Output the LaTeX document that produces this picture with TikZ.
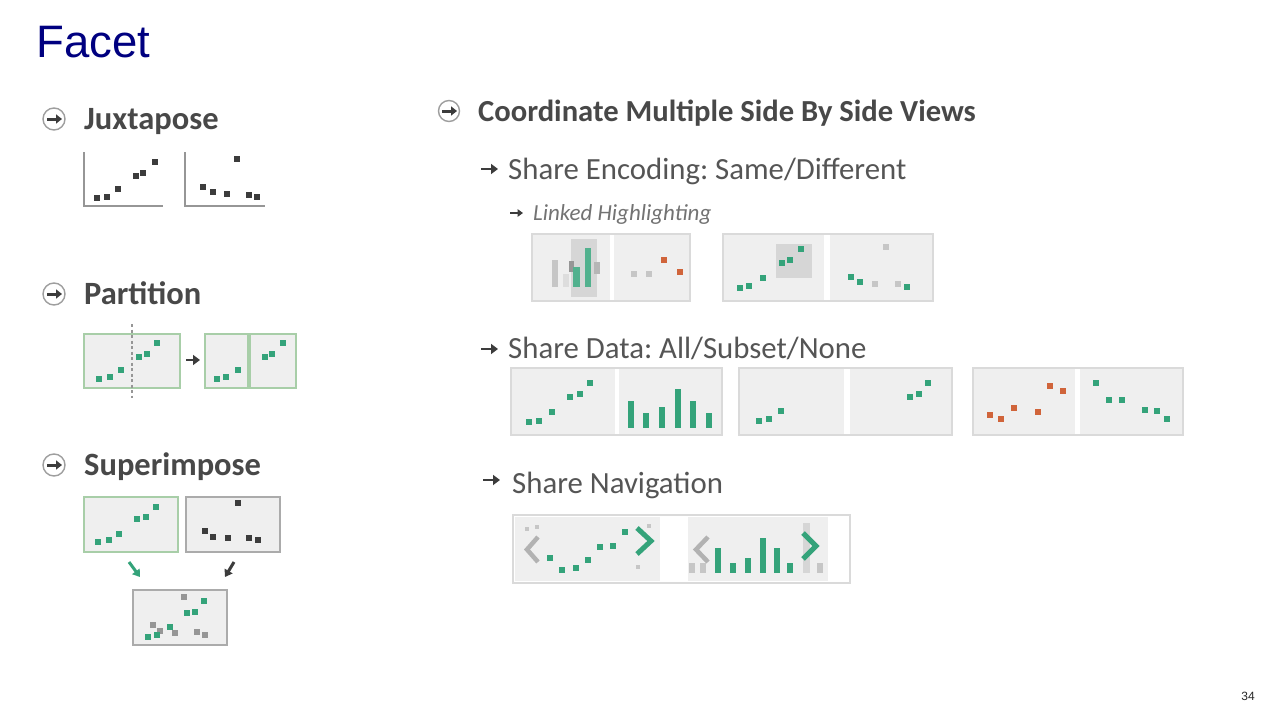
\documentclass[tikz,border=0pt]{standalone}
\usepackage{fontspec}
\setmainfont{Carlito}
\newfontfamily\arialf{Liberation Sans}
\usetikzlibrary{arrows.meta}
\frenchspacing
\definecolor{cNavy}{RGB}{0,0,128}
\definecolor{cHead}{RGB}{72,72,72}
\definecolor{cSub}{RGB}{85,85,85}
\definecolor{cPanel}{RGB}{239,239,239}
\definecolor{cBorder}{RGB}{218,218,218}
\definecolor{cGreen}{RGB}{52,163,122}
\definecolor{cGreenL}{RGB}{168,206,168}
\definecolor{cOrange}{RGB}{208,100,58}
\definecolor{cLGray}{RGB}{198,198,198}
\definecolor{cHl}{RGB}{214,214,214}
\definecolor{cDark}{RGB}{60,60,60}
\definecolor{cFrame}{RGB}{150,150,150}
\newcommand\pd[3]{\fill[#1] (#2,#3) ++(-2.7,-2.7) rectangle ++(5.4,5.4);}
\tikzset{
  head/.style={anchor=base west, inner sep=0, font=\bfseries\fontsize{32.5}{32}\selectfont, text=cHead},
  subhead/.style={anchor=base west, inner sep=0, font=\fontsize{30.8}{30}\selectfont, text=cSub},
  icon/.style={draw=cLGray!80!black, line width=1.4, fill=white},
  iarrow/.style={-{Triangle[length=6,width=9]}, line width=3, draw=cDark},
  barrow/.style={-{Triangle[length=7,width=10]}, line width=2.6, draw=cDark},
  axis/.style={draw=cFrame, line width=1.6},
  gbox/.style={fill=cPanel, draw=cGreenL, line width=2.6},
  kbox/.style={fill=cPanel, draw=cFrame!80, line width=2.6},
  panel/.style={fill=cPanel, draw=cBorder, line width=1.2},
  sep/.style={fill=white},
}
\begin{document}
\begin{tikzpicture}[x=1pt,y=-1pt]
\useasboundingbox (0,0) rectangle (1280,720);
\fill[white] (0,0) rectangle (1280,720);

% title and page number
\node[anchor=base west, inner sep=0, font=\arialf\fontsize{45.5}{45}\selectfont, text=cNavy] (title) at (36,57) {Facet};
\node[anchor=base east, inner sep=0, font=\arialf\fontsize{12}{12}\selectfont, text=black!85] (page) at (1255,700) {34};

% ---------- Juxtapose ----------
\draw[icon] (54,119) circle (11);
\draw[iarrow] (47,119) -- (62,119);
\node[head] (jux) at (84,129) {Juxtapose};
\draw[axis] (84,152) -- (84,206) -- (163,206);
\draw[axis] (185,152) -- (185,206) -- (265,206);
\foreach \x/\y in {97/198,107/197,118/189,136/176,143/173,155/162}{\pd{cDark}{\x}{\y}}
\foreach \x/\y in {203/187,213/192,227/194,237/159,249/195,257/197}{\pd{cDark}{\x}{\y}}

% ---------- Partition ----------
\draw[icon] (54,294) circle (11);
\draw[iarrow] (47,294) -- (62,294);
\node[head] (part) at (84,304) {Partition};
\draw[gbox] (84,334) rectangle (180,388);
\draw[cFrame, line width=1.3, dash pattern=on 3pt off 2.5pt] (132,324) -- (132,398);
\foreach \x/\y in {99/379,110/377,121/370,139/357,147/354,157/343}{\pd{cGreen}{\x}{\y}}
\draw[barrow] (186,360) -- (200,360);
\draw[gbox] (205,334) rectangle (248,388);
\draw[gbox] (250,334) rectangle (296,388);
\foreach \x/\y in {217/379,226/377,238/370}{\pd{cGreen}{\x}{\y}}
\foreach \x/\y in {265/357,272/354,283/343}{\pd{cGreen}{\x}{\y}}

% ---------- Superimpose ----------
\draw[icon] (54,465) circle (11);
\draw[iarrow] (47,465) -- (62,465);
\node[head] (sup) at (84,475) {Superimpose};
\draw[gbox] (84,497) rectangle (178,552);
\draw[kbox] (186,497) rectangle (280,552);
\draw[kbox] (133,590) rectangle (227,645);
\foreach \x/\y in {98/542,109/540,119/534,137/519,146/517,156/507}{\pd{cGreen}{\x}{\y}}
\foreach \x/\y in {238/503,205/531,213/537,228/538,249/538,258/540}{\pd{cDark}{\x}{\y}}
\foreach \x/\y in {184/597,153/625,160/631,175/633,197/632,205/635}{\pd{cFrame}{\x}{\y}}
\foreach \x/\y in {148/637,157/635,170/627,187/613,195/612,204/601}{\pd{cGreen}{\x}{\y}}
\draw[-{Triangle[length=7,width=9]}, line width=3, cGreen] (129,562) -- (140,577);
\draw[-{Triangle[length=7,width=9]}, line width=3, cDark] (234,562) -- (225,577);

% ---------- Coordinate multiple side by side views ----------
\draw[icon] (449,111) circle (10.5);
\draw[iarrow] (442,111) -- (457,111);
\node[head, font=\bfseries\fontsize{30.6}{30}\selectfont] (coord) at (478,121) {Coordinate Multiple Side By Side Views};

% Share encoding
\draw[barrow] (481,169) -- (498,169);
\node[subhead] (enc) at (508,179) {Share Encoding: Same/Different};
\draw[-{Triangle[length=5.5,width=7.5]}, line width=2, cDark] (510,213) -- (523,213);
\node[anchor=base west, inner sep=0, font=\itshape\fontsize{23}{23}\selectfont, text=black!55] (link) at (533,220) {Linked Highlighting};

% panel E1
\draw[panel] (532,234) rectangle (690,301);
\fill[sep] (610,235) rectangle (614,300);
\fill[cHl] (571,239) rectangle (597,297);
\fill[cLGray] (552,260) rectangle (558,287);
\fill[cLGray!60] (563,274) rectangle (569,287);
\fill[cFrame] (569,261) rectangle (574,272);
\fill[cGreen!85] (573,267) rectangle (580,287);
\fill[cGreen!85] (585,248) rectangle (591,287);
\fill[cFrame!70] (594,262) rectangle (600,274);
\pd{cLGray}{634}{274}\pd{cLGray}{649}{274}
\pd{cOrange}{664}{260}\pd{cOrange}{680}{272}

% panel E2
\draw[panel] (723,234) rectangle (933,301);
\fill[sep] (824,235) rectangle (830,300);
\fill[cHl] (776,244) rectangle (812,278);
\foreach \x/\y in {740/288,749/286,763/278,782/263,790/260,801/249}{\pd{cGreen}{\x}{\y}}
\foreach \x/\y in {886/247,875/284,898/284}{\pd{cLGray}{\x}{\y}}
\foreach \x/\y in {851/277,860/282,907/287}{\pd{cGreen}{\x}{\y}}

% Share data
\draw[barrow] (481,349) -- (498,349);
\node[subhead] (data) at (508,358) {Share Data: All/Subset/None};

\draw[panel] (511,368) rectangle (722,435);
\fill[sep] (615,369) rectangle (619,434);
\foreach \x/\y in {529/422,539/421,552/412,570/397,580/394,590/383}{\pd{cGreen}{\x}{\y}}
\foreach \x/\t in {631/401,646/413,662/407,678/389,693/401,709/413}{\fill[cGreen] (\x-3,\t) rectangle (\x+3,428);}

\draw[panel] (739,368) rectangle (952,435);
\fill[sep] (844,369) rectangle (850,434);
\foreach \x/\y in {759/421,769/419,781/411,910/397,919/394,928/383}{\pd{cGreen}{\x}{\y}}

\draw[panel] (973,368) rectangle (1183,435);
\fill[sep] (1075,369) rectangle (1080,434);
\foreach \x/\y in {990/415,1001/419,1014/408,1038/412,1050/386,1063/391}{\pd{cOrange}{\x}{\y}}
\foreach \x/\y in {1096/383,1109/400,1122/400,1145/410,1157/411,1167/419}{\pd{cGreen}{\x}{\y}}

% Share navigation
\draw[barrow] (483,480) -- (500,480);
\node[subhead] (nav) at (512,493) {Share Navigation};
\draw[panel, fill=white] (513,515) rectangle (850,583);
\fill[cPanel] (515,517) rectangle (660,581);
\fill[cPanel] (688,517) rectangle (828,581);
\draw[cLGray!90!black, line width=4.5, line join=miter] (538,537) -- (527,549.5) -- (538,562);
\draw[cGreen, line width=5, line join=miter] (637,528) -- (651,541) -- (637,554);
\foreach \x/\y in {550/558,562/570,576/568,588/560,600/547,613/546,625/532}{\pd{cGreen}{\x}{\y}}
\foreach \x/\y in {527/529,537/527,649/526,638/567}{\fill[cLGray] (\x,\y) ++(-1.6,-1.6) rectangle ++(3.2,3.2);}
\fill[cHl] (803,523) rectangle (810,573);
\draw[cLGray!90!black, line width=4.5, line join=miter] (708,537) -- (696,549.5) -- (708,562);
\foreach \x/\t in {718/548,733/563,748/558,763/538,777/548,790/563}{\fill[cGreen] (\x-2.6,\t) rectangle (\x+2.6,573);}
\foreach \x in {692,703,820}{\fill[cLGray] (\x-2.6,563) rectangle (\x+2.6,573);}
\draw[cGreen, line width=5, line join=miter] (803,533) -- (816,546) -- (803,559);
\end{tikzpicture}
\end{document}
